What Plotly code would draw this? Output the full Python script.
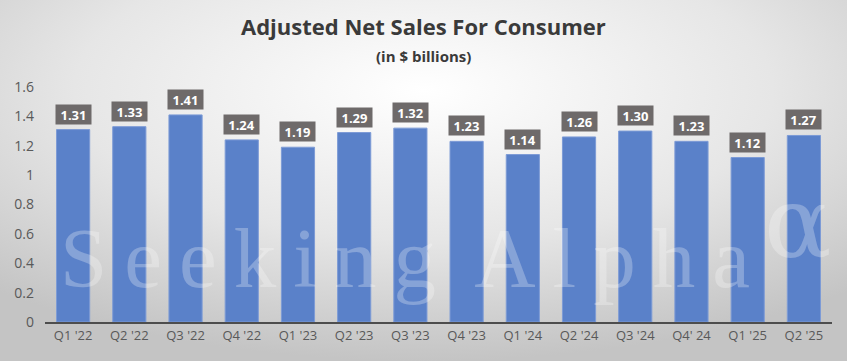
import base64
import plotly.graph_objects as go

categories = ["Q1 '22", "Q2 '22", "Q3 '22", "Q4 '22", "Q1 '23", "Q2 '23", "Q3 '23",
              "Q4 '23", "Q1 '24", "Q2 '24", "Q3 '24", "Q4' 24", "Q1 '25", "Q2 '25"]
sales = [1.31, 1.33, 1.41, 1.24, 1.19, 1.29, 1.32, 1.23, 1.14, 1.26, 1.30, 1.23, 1.12, 1.27]
y_ticks = [0, 0.2, 0.4, 0.6, 0.8, 1, 1.2, 1.4, 1.6]
y_tick_labels = ["0", "0.2", "0.4", "0.6", "0.8", "1", "1.2", "1.4", "1.6"]

W, H = 847, 361
ML, MR, MT, MB = 45, 15, 87, 39
pw, ph = W - ML - MR, H - MT - MB


def px_x(px):
    return (px - ML) / pw


def px_y(py):
    return (H - MB - py) / ph


svg = f'''<svg xmlns="http://www.w3.org/2000/svg" width="{W}" height="{H}" viewBox="0 0 {W} {H}" preserveAspectRatio="none">
<defs><radialGradient id="g" cx="0.5" cy="0.25" r="0.75" gradientUnits="objectBoundingBox">
<stop offset="0" stop-color="#ffffff"/><stop offset="0.55" stop-color="#e6e6e6"/><stop offset="1" stop-color="#c4c4c4"/>
</radialGradient></defs><rect width="{W}" height="{H}" fill="url(#g)"/></svg>'''
bg_uri = "data:image/svg+xml;base64," + base64.b64encode(svg.encode()).decode()

fig = go.Figure()
fig.add_trace(go.Bar(
    x=categories, y=sales,
    marker=dict(color="#5a81c9", line=dict(color="#7d9bd6", width=1)),
    hoverinfo="x+y",
))

annotations = []
for c, v in zip(categories, sales):
    annotations.append(dict(
        x=c, y=v, xref="x", yref="y", text=f"<b>{v:.2f}</b>", showarrow=False,
        yanchor="bottom", yshift=5, bgcolor="#6e6a6a", borderpad=0,
        width=35, height=19,
        font=dict(family="Open Sans, Arial", size=13, color="white"),
    ))

# watermark
ts = "\u2009"
wm_text = ts.join("Seeking") + " " + ts + ts.join("Alpha")
annotations.append(dict(
    x=px_x(58), y=px_y(258), xref="paper", yref="paper", text=wm_text,
    showarrow=False, xanchor="left", yanchor="middle",
    font=dict(family="Liberation Serif, serif", size=85, color="rgba(255,255,255,0.27)"),
))
annotations.append(dict(
    x=px_x(798), y=px_y(222), xref="paper", yref="paper", text="α",
    showarrow=False, xanchor="center", yanchor="middle",
    font=dict(family="DejaVu Serif, serif", size=100, color="rgba(255,255,255,0.27)"),
))

# title and subtitle
annotations.append(dict(
    x=px_x(W / 2), y=px_y(26), xref="paper", yref="paper",
    text="<b>Adjusted Net Sales For Consumer</b>",
    showarrow=False, xanchor="center", yanchor="middle",
    font=dict(family="Open Sans, Arial", size=22, color="#3a3a3a"),
))
annotations.append(dict(
    x=px_x(W / 2), y=px_y(56), xref="paper", yref="paper", text="<b>(in $ billions)</b>",
    showarrow=False, xanchor="center", yanchor="middle",
    font=dict(family="Open Sans, Arial", size=15, color="#3a3a3a"),
))

fig.update_layout(
    width=W, height=H,
    margin=dict(l=ML, r=MR, t=MT, b=MB, autoexpand=False),
    paper_bgcolor="#dcdcdc",
    plot_bgcolor="rgba(0,0,0,0)",
    bargap=0.41,
    showlegend=False,
    xaxis=dict(
        showgrid=False, showline=True, linecolor="#4d4d4d", linewidth=2,
        tickfont=dict(family="Open Sans, Arial", size=13, color="#595959"),
        ticks="", fixedrange=True, automargin=False,
    ),
    yaxis=dict(
        range=[0, 1.6], tickvals=y_ticks, ticktext=y_tick_labels,
        showgrid=False, zeroline=False, showline=False, ticks="",
        tickfont=dict(family="Open Sans, Arial", size=14, color="#595959"),
        ticklabelstandoff=10, automargin=False,
    ),
    annotations=annotations,
    images=[dict(
        source=bg_uri, xref="paper", yref="paper",
        x=-ML / pw, y=1 + MT / ph, sizex=W / pw, sizey=H / ph,
        xanchor="left", yanchor="top", sizing="stretch", layer="below",
    )],
)

fig.write_html(
    "out.html",
    config={"displayModeBar": False},
    post_script="document.body.style.margin='0';document.body.style.overflow='hidden';",
)
